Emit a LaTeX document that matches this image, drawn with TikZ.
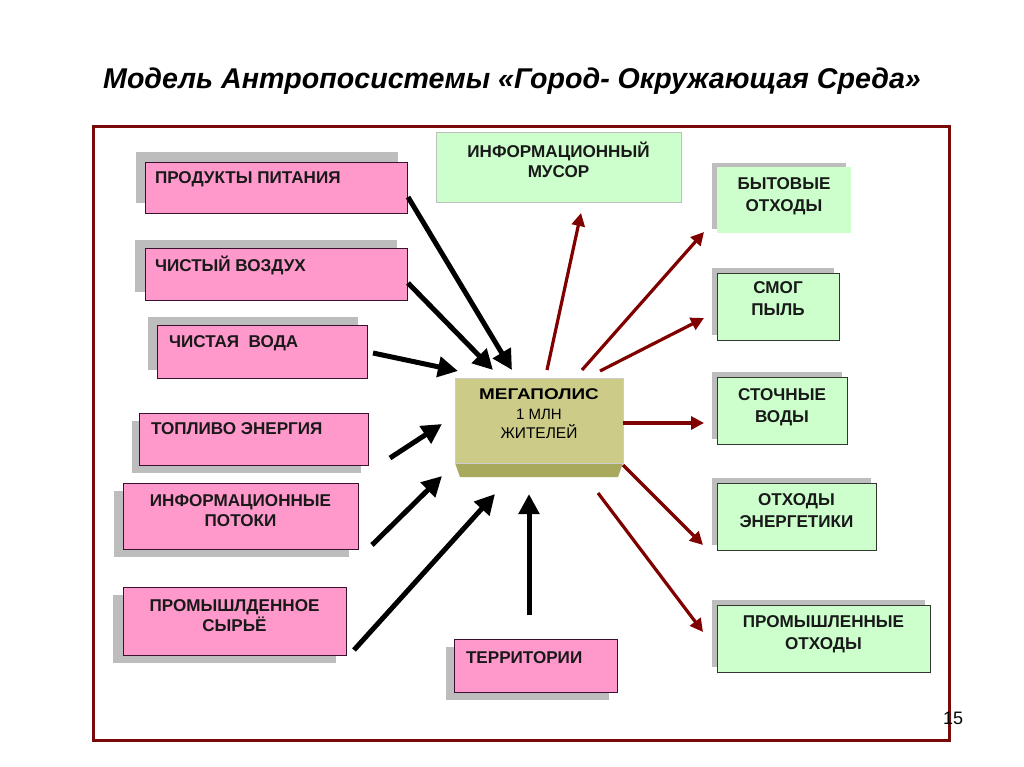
\documentclass[tikz,border=0pt]{standalone}
\usepackage{fontspec}
\setmainfont{Liberation Sans}
\usetikzlibrary{arrows.meta,shadows}
\definecolor{pinkf}{HTML}{FF99CC}
\definecolor{pinkd}{HTML}{3A1030}
\definecolor{greenf}{HTML}{CCFFCC}
\definecolor{greend}{HTML}{303830}
\definecolor{shadowg}{HTML}{BDBDBD}
\definecolor{framer}{HTML}{7A0A0A}
\definecolor{arrred}{HTML}{800000}
\definecolor{megaf}{HTML}{CCCC88}
\definecolor{megab}{HTML}{A9A95E}
\begin{document}
\begin{tikzpicture}[x=1pt,y=-1pt,
  boxbase/.style={anchor=north west, inner sep=0pt, outer sep=0pt, line width=0.8pt},
  pinkbox/.style={boxbase, fill=pinkf, draw=pinkd},
  greenbox/.style={boxbase, fill=greenf, draw=greend},
  sh/.style 2 args={drop shadow={shadow xshift=#1, shadow yshift=#2, fill=shadowg, opacity=1}},
  lbl/.style={inner sep=0pt, outer sep=0pt, font=\fontsize{17.1}{22}\selectfont\bfseries, text=black!90},
  lbl2/.style={lbl, align=center, font=\fontsize{17.1}{20}\selectfont\bfseries},
  inarrow/.style={line width=5pt, black, -{Triangle[length=20pt,width=20pt]}},
  outarrow/.style={line width=3.2pt, arrred, -{Triangle[length=13pt,width=13pt]}},
]
\useasboundingbox (0,0) rectangle (1024,767);
\fill[white] (0,0) rectangle (1024,767);

% title
\node[inner sep=0pt, anchor=base, font=\fontsize{28.6}{32}\selectfont\bfseries\itshape] (title) at (512,89)
  {Модель Антропосистемы «Город- Окружающая Среда»};

% frame
\node[draw=framer, line width=3pt, anchor=north west, inner sep=0pt, minimum width=856pt, minimum height=614pt] (frame) at (92,125) {};

% pink boxes (inputs)
\node[pinkbox, sh={-9pt}{10pt}, minimum width=262pt, minimum height=51pt] (prod) at (145,162) {};
\node[lbl, anchor=north west] (prodT) at ([xshift=10pt,yshift=-8pt]prod.north west) {\rule{0pt}{14pt}ПРОДУКТЫ ПИТАНИЯ};

\node[pinkbox, sh={-10pt}{8pt}, minimum width=262pt, minimum height=52pt] (air) at (145,248) {};
\node[lbl, anchor=north west] (airT) at ([xshift=10pt,yshift=-8pt]air.north west) {\rule{0pt}{14pt}ЧИСТЫЙ ВОЗДУХ};

\node[pinkbox, sh={-9pt}{8pt}, minimum width=210pt, minimum height=53pt] (water) at (157,325) {};
\node[lbl, anchor=north west] (waterT) at ([xshift=12pt,yshift=-8pt]water.north west) {\rule{0pt}{14pt}ЧИСТАЯ\ \ ВОДА};

\node[pinkbox, sh={-7pt}{-8pt}, minimum width=229pt, minimum height=52pt] (fuel) at (139,413) {};
\node[lbl, anchor=north west] (fuelT) at ([xshift=12pt,yshift=-7pt]fuel.north west) {\rule{0pt}{14pt}ТОПЛИВО ЭНЕРГИЯ};

\node[pinkbox, sh={-9pt}{-8pt}, minimum width=235pt, minimum height=66pt] (info) at (123,483) {};
\node[lbl2, anchor=north] (infoT) at ([yshift=-9pt]info.north) {\rule{0pt}{14pt}ИНФОРМАЦИОННЫЕ\\ПОТОКИ};

\node[pinkbox, sh={-10pt}{-8pt}, minimum width=223pt, minimum height=68pt] (raw) at (123,587) {};
\node[lbl2, anchor=north] (rawT) at ([yshift=-10pt]raw.north) {\rule{0pt}{14pt}ПРОМЫШЛДЕННОЕ\\СЫРЬЁ};

\node[pinkbox, sh={-8pt}{-8pt}, minimum width=163pt, minimum height=53pt] (terr) at (454,639) {};
\node[lbl, anchor=north west] (terrT) at ([xshift=12pt,yshift=-10pt]terr.north west) {\rule{0pt}{14pt}ТЕРРИТОРИИ};

% green boxes (outputs)
\node[greenbox, draw=black!25, line width=0.6pt, minimum width=245pt, minimum height=70pt] (musor) at (436,132) {};
\node[lbl2, anchor=north] (musorT) at ([yshift=-10pt]musor.north) {\rule{0pt}{14pt}ИНФОРМАЦИОННЫЙ\\МУСОР};

\node[greenbox, draw=none, sh={-5pt}{4pt}, minimum width=134pt, minimum height=66pt] (byt) at (717,167) {};
\node[lbl, anchor=north, align=center] (bytT) at ([yshift=-9pt]byt.north) {\rule{0pt}{14pt}БЫТОВЫЕ\\ОТХОДЫ};

\node[greenbox, sh={-5pt}{5pt}, minimum width=122pt, minimum height=67pt] (smog) at (717,273) {};
\node[lbl, anchor=north, align=center] (smogT) at ([yshift=-6pt]smog.north) {\rule{0pt}{14pt}СМОГ\\ПЫЛЬ};

\node[greenbox, sh={-5pt}{5pt}, minimum width=130pt, minimum height=67pt] (stoch) at (717,377) {};
\node[lbl, anchor=north, align=center] (stochT) at ([yshift=-9pt]stoch.north) {\rule{0pt}{14pt}СТОЧНЫЕ\\ВОДЫ};

\node[greenbox, sh={-5pt}{5pt}, minimum width=159pt, minimum height=67pt] (energ) at (717,483) {};
\node[lbl, anchor=north, align=center] (energT) at ([yshift=-8pt]energ.north) {\rule{0pt}{14pt}ОТХОДЫ\\ЭНЕРГЕТИКИ};

\node[greenbox, sh={-5pt}{5pt}, minimum width=213pt, minimum height=67pt] (prom) at (717,605) {};
\node[lbl, anchor=north, align=center] (promT) at ([yshift=-8pt]prom.north) {\rule{0pt}{14pt}ПРОМЫШЛЕННЫЕ\\ОТХОДЫ};

% megapolis block
\fill[megab] (455,463) -- (623,463) -- (618,477) -- (460,477) -- cycle;
\node[anchor=north west, inner sep=0pt, outer sep=0pt, fill=megaf, draw=black!20, line width=0.5pt, minimum width=168pt, minimum height=85pt] (mega) at (455,378) {};
\node[inner sep=0pt, anchor=base] (megaT1) at (539,399) {\fontsize{15.5}{18}\selectfont\bfseries\scalebox{1.22}[1]{МЕГАПОЛИС}};
\node[inner sep=0pt, anchor=base, font=\fontsize{15}{18}\selectfont] (megaT2) at (539,419) {1 МЛН};
\node[inner sep=0pt, anchor=base, font=\fontsize{15.5}{18}\selectfont] (megaT3) at (539,438) {ЖИТЕЛЕЙ};

% arrow end points
\coordinate (b1s) at (408,197); \coordinate (b1e) at (512,370);
\coordinate (b2s) at (408,283); \coordinate (b2e) at (493,370);
\coordinate (b3s) at (373,353); \coordinate (b3e) at (458,371);
\coordinate (b4s) at (390,458); \coordinate (b4e) at (442,424);
\coordinate (b5s) at (372,545); \coordinate (b5e) at (442,476);
\coordinate (b6s) at (354,650); \coordinate (b6e) at (495,494);
\coordinate (b7s) at (529,615); \coordinate (b7e) at (529,494);
\coordinate (r1s) at (547,370); \coordinate (r1e) at (581,213);
\coordinate (r2s) at (582,370); \coordinate (r2e) at (704,232);
\coordinate (r3s) at (600,371); \coordinate (r3e) at (704,318);
\coordinate (r4s) at (623,423); \coordinate (r4e) at (704,423);
\coordinate (r5s) at (623,465); \coordinate (r5e) at (703,545);
\coordinate (r6s) at (598,493); \coordinate (r6e) at (703,632);

\draw[inarrow] (b1s) -- (b1e);
\draw[inarrow] (b2s) -- (b2e);
\draw[inarrow] (b3s) -- (b3e);
\draw[inarrow] (b4s) -- (b4e);
\draw[inarrow] (b5s) -- (b5e);
\draw[inarrow] (b6s) -- (b6e);
\draw[inarrow] (b7s) -- (b7e);
\draw[outarrow] (r1s) -- (r1e);
\draw[outarrow] (r2s) -- (r2e);
\draw[outarrow] (r3s) -- (r3e);
\draw[outarrow] (r4s) -- (r4e);
\draw[outarrow] (r5s) -- (r5e);
\draw[outarrow] (r6s) -- (r6e);

% page number
\node[inner sep=0pt, anchor=base, font=\fontsize{18}{20}\selectfont] (pnum) at (953,724) {15};
\end{tikzpicture}
\end{document}
